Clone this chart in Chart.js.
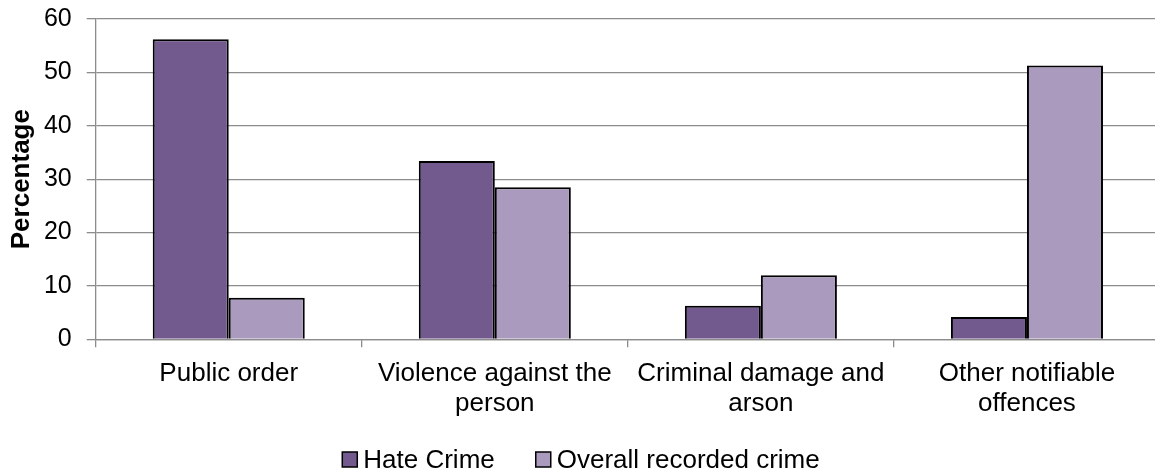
<!DOCTYPE html>
<html>
<head>
<meta charset="utf-8">
<script src="https://cdn.jsdelivr.net/npm/chart.js@4.4.0/dist/chart.umd.min.js"></script>
<style>
html,body{margin:0;padding:0;background:#ffffff;overflow:hidden;width:1155px;height:473px;}
#wrap{position:relative;width:1160px;height:473px;}
</style>
</head>
<body>
<div id="wrap"><canvas id="c"></canvas></div>
<script>
// ---- data ----
const categories = [["Public order"], ["Violence against the", "person"], ["Criminal damage and", "arson"], ["Other notifiable", "offences"]];
const seriesNames = ["Hate Crime", "Overall recorded crime"];
const hateCrime = [56.2, 33.4, 6.3, 4.2];
const overallCrime = [7.8, 28.5, 12.0, 51.3];
const yTickValues = [0, 10, 20, 30, 40, 50, 60];
const yAxisTitle = "Percentage";

// ---- style ----
const FONT = '"Liberation Sans", Arial, Helvetica, sans-serif';
const GRID = '#8c8c8c';
const colors = ['#72598E', '#AA9ABE'];

const legendPlugin = {
  id: 'excelLegend',
  afterDraw(chart) {
    const ctx = chart.ctx;
    ctx.save();
    ctx.font = '26px ' + FONT;
    ctx.textBaseline = 'middle';
    ctx.textAlign = 'left';
    const box = 15, gapText = 6, gapItem = 41;
    const items = chart.data.datasets.map(d => ({
      label: d.label, color: d.backgroundColor, w: ctx.measureText(d.label).width
    }));
    const total = items.reduce((s, it) => s + box + gapText + it.w, 0) + gapItem * (items.length - 1);
    let x = chart.width / 2 + 1 - total / 2;
    const y = 459.5;
    items.forEach(it => {
      ctx.fillStyle = it.color;
      ctx.fillRect(x, y - box / 2, box, box);
      ctx.lineWidth = 1.5;
      ctx.strokeStyle = '#000';
      ctx.strokeRect(x, y - box / 2, box, box);
      ctx.fillStyle = '#000';
      ctx.fillText(it.label, x + box + gapText, y + 1);
      x += box + gapText + it.w + gapItem;
    });
    ctx.restore();
  }
};

new Chart(document.getElementById('c'), {
  type: 'bar',
  data: {
    labels: categories,
    datasets: [
      { label: seriesNames[0], data: hateCrime, backgroundColor: colors[0], borderColor: '#000', borderWidth: 2 },
      { label: seriesNames[1], data: overallCrime, backgroundColor: colors[1], borderColor: '#000', borderWidth: 2 }
    ]
  },
  options: {
    responsive: true,
    maintainAspectRatio: false,
    devicePixelRatio: 1,
    animation: false,
    datasets: { bar: { categoryPercentage: 0.5714, barPercentage: 1.0 } },
    layout: { padding: { top: 19, right: 0, bottom: 0, left: 0 } },
    plugins: {
      legend: { display: false },
      tooltip: { enabled: false }
    },
    scales: {
      x: {
        offset: true,
        grid: { display: true, drawOnChartArea: false, drawTicks: true, tickLength: 8, color: GRID, lineWidth: 1.3, offset: true },
        border: { display: true, color: GRID, width: 1.3 },
        ticks: {
          color: '#000', padding: 12, maxRotation: 0, autoSkip: false,
          font: { family: FONT, size: 26, lineHeight: 1.154 }
        },
        afterFit(scale) { scale.height = 133.7; scale.paddingLeft = 0; scale.paddingRight = 0; }
      },
      y: {
        min: yTickValues[0],
        max: yTickValues[yTickValues.length - 1],
        afterBuildTicks(scale) { scale.ticks = yTickValues.map(v => ({ value: v })); },
        grid: { color: GRID, lineWidth: 1.3, tickLength: 9, drawTicks: true },
        border: { display: true, color: GRID, width: 1.3 },
        ticks: { color: '#000', padding: 15, font: { family: FONT, size: 25 } },
        title: {
          display: true, text: yAxisTitle, color: '#000',
          font: { family: FONT, size: 26, weight: 'bold' },
          padding: { top: 6, bottom: 0 }
        },
        afterFit(scale) { scale.width = 95.7; scale.paddingTop = 0; scale.paddingBottom = 0; }
      }
    }
  },
  plugins: [legendPlugin]
});
</script>
</body>
</html>
